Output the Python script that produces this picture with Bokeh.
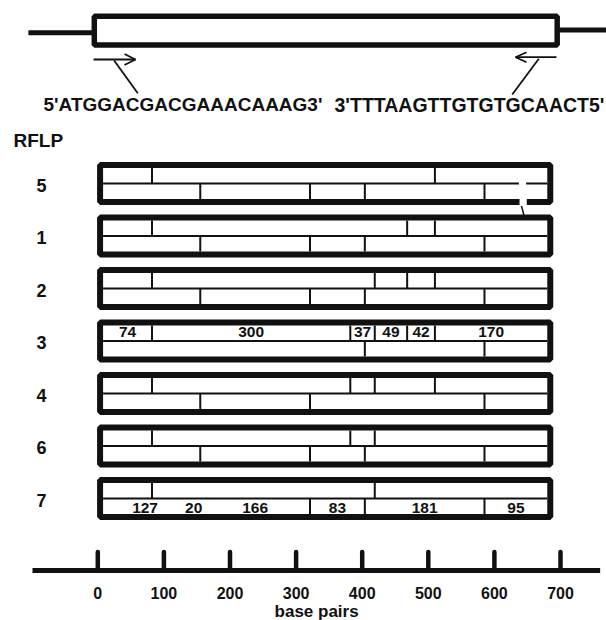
from bokeh.plotting import figure
from bokeh.models import Range1d
from bokeh.embed import file_html
from bokeh.resources import INLINE
from bokeh.core.properties import value

# ---------------- data ----------------
RFLP_TYPES = ["5", "1", "2", "3", "4", "6", "7"]
TOTAL_BP = 672
UPPER_SITES = [
    [74, 502],
    [74, 460, 502],
    [74, 411, 460, 502],
    [74, 374, 411, 460, 502],
    [74, 374, 411, 502],
    [74, 374, 411],
    [74, 411],
]
LOWER_SITES = [
    [147, 313, 396, 577],
    [147, 313, 396, 577],
    [147, 313, 396, 577],
    [396, 577],
    [147, 313, 577],
    [147, 313, 396, 577],
    [313, 396, 577],
]
TYPE3_UPPER_FRAGMENTS = [74, 300, 37, 49, 42, 170]
TYPE7_LOWER_FRAGMENTS = [127, 20, 166, 83, 181, 95]
PRIMER_FWD = "5'ATGGACGACGAAACAAAG3'"
PRIMER_REV = "3'TTTAAGTTGTGTGCAACT5'"
AXIS_TICKS = [0, 100, 200, 300, 400, 500, 600, 700]
AXIS_TITLE = "base pairs"
HEADER = "RFLP"

# ---------------- layout ----------------
W, H = 606, 620
PX_PER_BP = 0.661
X0_PX = 97.3                     # canvas px of 0 bp
SEG0 = 8                         # bp offset of fragment boxes' inner edge
BORDER_BP = 3 / PX_PER_BP
ROW_TOP0, ROW_STEP = 161.5, 52.5
INK = "#111111"
FONT = value("Liberation Sans")

p = figure(width=W, height=H, output_backend="svg", toolbar_location=None,
           x_range=Range1d(-X0_PX / PX_PER_BP, (W - X0_PX) / PX_PER_BP),
           y_range=Range1d(H, 0),
           x_axis_location=None, y_axis_location=None, min_border=0)
p.grid.visible = False
p.outline_line_color = None
p.background_fill_color = "white"
p.border_fill_color = "white"


def label(x, y, text, size, align="center"):
    p.text(x=x, y=y, text=text, text_font=FONT, text_font_style="bold",
           text_font_size=size, text_align=align, text_baseline="middle",
           text_color=INK)


# ---- gene schematic with primers ----
p.segment(x0=[-105, 695], x1=[-5.3, 775], y0=[32.3, 29.5], y1=[32.3, 29.5],
          line_color=INK, line_width=5)
p.quad(left=[-5.3], right=[695], top=[15.8], bottom=[44.5],
       fill_color="white", line_color=INK, line_width=5.5)
arrow_x0 = [-6.4, 57.0, 57.0, 24.7, 632.0, 632.0, 632.0, 667.2]
arrow_x1 = [57.0, 40.4, 40.4, 60.5, 693.9, 648.6, 648.6, 627.0]
arrow_y0 = [59.0, 59.0, 59.0, 60.0, 56.7, 56.7, 56.7, 58.3]
arrow_y1 = [59.0, 53.5, 64.5, 92.7, 56.7, 51.7, 61.7, 94.0]
p.segment(x0=arrow_x0, x1=arrow_x1, y0=arrow_y0, y1=arrow_y1,
          line_color=INK, line_width=1.8)
label([-82.1], [104.4], [PRIMER_FWD], "19px", "left")
label([766.5], [104.4], [PRIMER_REV], "19.5px", "right")
label([-127.5], [140], [HEADER], "19px", "left")

# ---- RFLP rows ----
tops = [ROW_TOP0 + i * ROW_STEP for i in range(len(RFLP_TYPES))]
p.quad(left=[SEG0 - BORDER_BP] * len(tops), right=[SEG0 + TOTAL_BP + BORDER_BP] * len(tops),
       top=[t + 3 for t in tops], bottom=[t + 40 for t in tops],
       fill_color="white", line_color=INK, line_width=6)

sx0, sx1, sy0, sy1 = [], [], [], []
for t, up, lo in zip(tops, UPPER_SITES, LOWER_SITES):
    sx0.append(SEG0); sx1.append(SEG0 + TOTAL_BP); sy0.append(t + 21.5); sy1.append(t + 21.5)
    for s in up:
        sx0.append(SEG0 + s); sx1.append(SEG0 + s); sy0.append(t + 6); sy1.append(t + 21.5)
    for s in lo:
        sx0.append(SEG0 + s); sx1.append(SEG0 + s); sy0.append(t + 21.5); sy1.append(t + 37)
p.segment(x0=sx0, x1=sx1, y0=sy0, y1=sy1, line_color=INK, line_width=2)

# small print defect of the original at the right end of row "5"
t5 = tops[0]
p.quad(left=[637, 638], right=[648, 649], top=[t5 + 19.5, t5 + 35.5],
       bottom=[t5 + 23.5, t5 + 44], fill_color="white", line_color=None)
p.segment(x0=[641], x1=[645], y0=[t5 + 44], y1=[t5 + 54], line_color=INK, line_width=1.5)

label([-85.2] * len(tops), [t + 23 for t in tops], RFLP_TYPES, "18px")


def centers(frags):
    out, acc = [], 0
    for f in frags:
        out.append(SEG0 + acc + f / 2)
        acc += f
    return out


t3 = tops[RFLP_TYPES.index("3")]
label(centers(TYPE3_UPPER_FRAGMENTS), [t3 + 12] * len(TYPE3_UPPER_FRAGMENTS),
      [str(f) for f in TYPE3_UPPER_FRAGMENTS], "15.5px")
t7 = tops[RFLP_TYPES.index("7")]
label(centers(TYPE7_LOWER_FRAGMENTS), [t7 + 31] * len(TYPE7_LOWER_FRAGMENTS),
      [str(f) for f in TYPE7_LOWER_FRAGMENTS], "15.5px")

# ---- scale bar (axis) ----
p.segment(x0=[-98.8], x1=[760], y0=[570], y1=[570], line_color=INK, line_width=5)
p.segment(x0=AXIS_TICKS, x1=AXIS_TICKS, y0=[551.5] * len(AXIS_TICKS), y1=[570] * len(AXIS_TICKS),
          line_color=INK, line_width=4.5, line_cap="round")
label(AXIS_TICKS, [592.5] * len(AXIS_TICKS), [str(t) for t in AXIS_TICKS], "16px")
label([331], [611], [AXIS_TITLE], "17px")

open("out.html", "w").write(file_html(p, INLINE))
